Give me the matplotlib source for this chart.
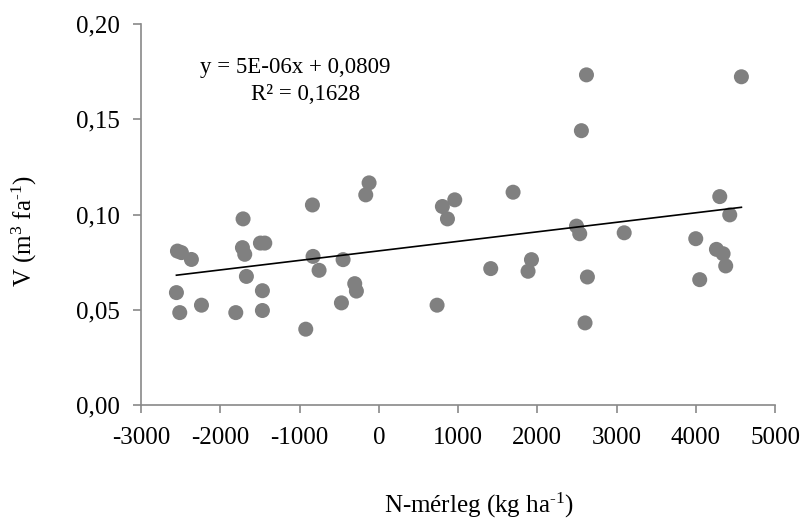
import matplotlib.pyplot as plt
import matplotlib.ticker as mticker
import numpy as np

plt.rcParams['font.family'] = ['Liberation Serif', 'DejaVu Serif']
plt.rcParams['mathtext.fontset'] = 'custom'
plt.rcParams['mathtext.rm'] = 'Liberation Serif'
plt.rcParams['mathtext.it'] = 'Liberation Serif:italic'

# N-balance (kg/ha) vs V (m3/tree)
n_balance = [-2540, -2490, -2364, -2553, -2511, -2237, -1712, -1720, -1691, -1670,
             -1804, -1493, -1438, -1468, -1468, -837, -829, -753, -921, -450,
             -471, -303, -282, -122, -164, 1695, 803, 959, 867, 1413,
             1927, 1884, 736, 2621, 4576, 2557, 4303, 4429, 2495, 2536,
             3097, 4000, 4261, 4345, 4378, 4050, 2633, 2603]
volume = [0.0808, 0.0800, 0.0764, 0.0590, 0.0485, 0.0524, 0.0977, 0.0826, 0.0791, 0.0675,
          0.0485, 0.0850, 0.0850, 0.0600, 0.0496, 0.1050, 0.0780, 0.0707, 0.0398, 0.0763,
          0.0536, 0.0637, 0.0598, 0.1166, 0.1103, 0.1117, 0.1042, 0.1077, 0.0977, 0.0716,
          0.0763, 0.0702, 0.0524, 0.1733, 0.1723, 0.1440, 0.1094, 0.0998, 0.0939, 0.0899,
          0.0904, 0.0873, 0.0817, 0.0794, 0.0730, 0.0658, 0.0672, 0.0431]

slope = 5e-06
intercept = 0.0809

W, H = 805, 518
fig = plt.figure(figsize=(W / 100, H / 100), dpi=100)
ax = fig.add_axes([141 / W, 1 - 405 / H, (775 - 141) / W, (405 - 24) / H])

ax.scatter(n_balance, volume, s=117, color='#808080', edgecolors='none', zorder=3)

xs = np.array([min(n_balance), max(n_balance)])
ax.plot(xs, slope * xs + intercept, color='black', linewidth=1.2, zorder=4)

ax.set_xlim(-3000, 5000)
ax.set_ylim(0, 0.20)
ax.set_xticks(np.arange(-3000, 5001, 1000))
ax.set_yticks(np.arange(0, 0.2001, 0.05))
ax.yaxis.set_major_formatter(mticker.FuncFormatter(lambda v, p: f'{v:.2f}'.replace('.', ',')))
ax.xaxis.set_major_formatter(mticker.FuncFormatter(lambda v, p: f'{int(round(v))}'))

for s in ['top', 'right']:
    ax.spines[s].set_visible(False)
for s in ['left', 'bottom']:
    ax.spines[s].set_color('#898989')
    ax.spines[s].set_linewidth(1.2)
ax.tick_params(axis='both', direction='out', length=5.5, width=1.2, color='#898989',
               labelsize=18)
ax.tick_params(axis='x', pad=10)
ax.tick_params(axis='y', pad=10)

ax.set_xlabel(r'N-mérleg (kg ha$^{\mathregular{\text{-}1}}$)', fontsize=18)
ax.xaxis.set_label_coords((479 - 141) / (775 - 141), -(505 - 405) / (405 - 24))
ax.xaxis.label.set_va('center')
ax.set_ylabel(r'V (m$^{\mathregular{3}}$ fa$^{\mathregular{\text{-}1}}$)', fontsize=18)
ax.yaxis.set_label_coords(-(141 - 24) / (775 - 141), (405 - 231) / (405 - 24))
ax.yaxis.label.set_va('center')

fig.text(295 / W, 1 - 68 / H, 'y = 5E-06x + 0,0809', fontsize=16.5, ha='center', va='center')
fig.text(306 / W, 1 - 95 / H, 'R² = 0,1628', fontsize=16.5, ha='center', va='center')

fig.savefig('out.png', dpi=100)
